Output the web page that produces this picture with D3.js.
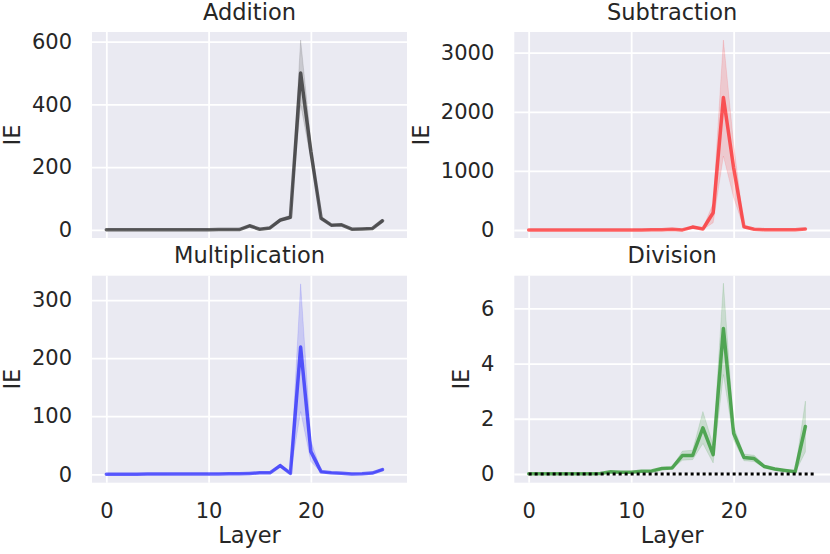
<!DOCTYPE html>
<html lang="en">
<head>
   <meta charset="UTF-8">
   <title>IE per layer</title>
   <style>
      html, body {
         margin: 0;
         background: #fff;
         overflow: hidden;
      }

      text {
         font-family: 'DejaVu Sans', sans-serif;
         fill: #262626;
      }

      .tick text {
         font-size: 21px;
      }

      .tick line {
         stroke: #fff;
         stroke-width: 1.8;
      }

      .title, .label {
         font-size: 22.5px;
      }
   </style>
   <script src="https://cdn.jsdelivr.net/npm/d3@7"></script>
</head>
<body>
   <div class="chart"></div>
   <script>
      // layers 0..27
      const layers = [0, 1, 2, 3, 4, 5, 6, 7, 8, 9, 10, 11, 12, 13, 14, 15, 16, 17, 18, 19, 20, 21, 22, 23, 24, 25, 26, 27]
      const xTicks = [0, 10, 20]
      const xLimits = [-1.4, 29.4]

      const additionMean = [0.3, 0.4, 0.3, 0.5, 0.4, 0.3, 0.4, 0.5, 0.6, 0.5, 0.7, 0.8, 0.9, 1, 13, 2, 6, 31, 40, 500, 250, 37, 15, 16, 2, 3, 4, 29]
      const additionLow = [0.1, 0.2, 0.1, 0.3, 0.2, 0.1, 0.2, 0.3, 0.4, 0.3, 0.5, 0.6, 0.6, 0.7, 10, 1, 4, 26, 35, 400, 225, 33, 13, 14, 1, 2, 3, 24]
      const additionHigh = [0.5, 0.6, 0.5, 0.7, 0.6, 0.5, 0.6, 0.7, 0.8, 0.7, 0.9, 1, 1.2, 1.3, 16, 3, 8, 37, 46, 605, 285, 41, 17, 18, 3, 4, 5, 34]

      const subtractionMean = [0, 0, 0, 0, 0, 0, 0, 0, 1, 1, 1, 2, 3, 5, 12, 2, 50, 17, 293, 2240, 1050, 55, 12, 6, 3, 3, 5, 18]
      const subtractionLow = [0, 0, 0, 0, 0, 0, 0, 0, 0, 0, 0, 1, 1, 3, 8, 1, 30, 8, 124, 1252, 550, 35, 8, 4, 2, 2, 3, 12]
      const subtractionHigh = [1, 1, 1, 1, 1, 1, 1, 1, 2, 2, 2, 3, 5, 8, 16, 4, 75, 30, 450, 3215, 1450, 80, 16, 9, 5, 5, 7, 25]

      const multiplicationMean = [0.2, 0.2, 0.2, 0.2, 0.3, 0.3, 0.3, 0.4, 0.4, 0.5, 0.5, 0.6, 0.7, 0.8, 1.5, 2.5, 2.5, 15, 1.5, 219, 39, 4.5, 2.5, 1.7, 0.6, 1, 2, 8]
      const multiplicationLow = [0.1, 0.1, 0.1, 0.1, 0.2, 0.2, 0.2, 0.3, 0.3, 0.4, 0.4, 0.5, 0.5, 0.6, 1.2, 2, 2, 12, 1, 108, 22, 3.5, 2, 1.3, 0.4, 0.7, 1.6, 6.5]
      const multiplicationHigh = [0.3, 0.3, 0.3, 0.3, 0.4, 0.4, 0.4, 0.5, 0.5, 0.6, 0.6, 0.7, 0.9, 1, 1.8, 3, 3, 18, 2, 328, 58, 5.5, 3, 2.1, 0.8, 1.3, 2.4, 9.5]

      const divisionMean = [0.01, 0.01, 0.01, 0.01, 0.01, 0.01, 0.01, 0.02, 0.08, 0.06, 0.06, 0.1, 0.11, 0.2, 0.22, 0.67, 0.67, 1.67, 0.7, 5.27, 1.47, 0.6, 0.56, 0.27, 0.18, 0.13, 0.08, 1.72]
      const divisionLow = [0, 0, 0, 0, 0, 0, 0, 0.01, 0.06, 0.04, 0.04, 0.08, 0.09, 0.17, 0.19, 0.5, 0.52, 1.1, 0.4, 3.6, 1.23, 0.48, 0.45, 0.22, 0.14, 0.1, 0.05, 0.8]
      const divisionHigh = [0.02, 0.02, 0.02, 0.02, 0.02, 0.02, 0.02, 0.03, 0.1, 0.08, 0.08, 0.12, 0.13, 0.24, 0.26, 0.83, 0.86, 2.26, 1.05, 6.91, 1.71, 0.72, 0.68, 0.33, 0.23, 0.17, 0.12, 2.64]

      const titles = ['Addition', 'Subtraction', 'Multiplication', 'Division']
      const yLimits = [[-26, 631], [-135, 3350], [-14.5, 342], [-0.315, 7.18]]
      const yTicks = [[0, 200, 400, 600], [0, 1000, 2000, 3000], [0, 100, 200, 300], [0, 2, 4, 6]]
      const baseline = [0, 28]  // dotted zero line in Division

      const series = [
         { mean: additionMean, low: additionLow, high: additionHigh, color: 'black' },
         { mean: subtractionMean, low: subtractionLow, high: subtractionHigh, color: 'red' },
         { mean: multiplicationMean, low: multiplicationLow, high: multiplicationHigh, color: 'blue' },
         { mean: divisionMean, low: divisionLow, high: divisionHigh, color: 'green' }
      ]

      function visualize() {
         const svg = d3.select('.chart').append('svg')
            .attr('width', 830)
            .attr('height', 554)

         // plot boxes: columns and rows
         const cols = [[92, 407], [514.3, 830]]
         const rows = [[32, 238], [275.7, 482.7]]

         series.forEach((s, i) => {
            const col = cols[i % 2], row = rows[Math.floor(i / 2)]
            const WIDTH = col[1] - col[0]
            const HEIGHT = row[1] - row[0]
            const bottomRow = i >= 2

            const chart = svg.append('g')
               .attr('transform', `translate(${col[0]}, ${row[0]})`)

            chart.append('rect')
               .attr('width', WIDTH)
               .attr('height', HEIGHT)
               .attr('fill', '#EAEAF2')

            const xScale = d3.scaleLinear().domain(xLimits).range([0, WIDTH])
            const yScale = d3.scaleLinear().domain(yLimits[i]).range([HEIGHT, 0])

            const xAxisGroup = chart.append('g')
               .attr('transform', `translate(0, ${HEIGHT})`)
               .call(d3.axisBottom(xScale)
                  .tickValues(xTicks)
                  .tickSizeInner(-HEIGHT)
                  .tickSizeOuter(0)
                  .tickPadding(20.5)
                  .tickFormat(bottomRow ? d3.format('') : () => ''))
            xAxisGroup.select('.domain').remove()

            const yAxisGroup = chart.append('g')
               .call(d3.axisLeft(yScale)
                  .tickValues(yTicks[i])
                  .tickSizeInner(-WIDTH)
                  .tickSizeOuter(0)
                  .tickPadding(20)
                  .tickFormat(d3.format('')))
            yAxisGroup.select('.domain').remove()
            chart.selectAll('.tick text').attr('fill', '#262626')

            // confidence band
            const band = d3.area()
               .x(d => xScale(d))
               .y0(d => yScale(s.low[d]))
               .y1(d => yScale(s.high[d]))

            chart.append('path')
               .datum(layers)
               .attr('d', band)
               .attr('fill', s.color)
               .attr('fill-opacity', 0.14)
               .attr('stroke', s.color)
               .attr('stroke-opacity', 0.1)
               .attr('stroke-width', 1)

            const line = d3.line()
               .x(d => xScale(d))
               .y(d => yScale(s.mean[d]))

            chart.append('path')
               .datum(layers)
               .attr('d', line)
               .attr('fill', 'none')
               .attr('stroke', s.color)
               .attr('stroke-opacity', 0.6)
               .attr('stroke-width', 3.5)
               .attr('stroke-linejoin', 'round')
               .attr('stroke-linecap', 'round')

            if (i === 3) {
               chart.append('line')
                  .attr('x1', xScale(baseline[0]))
                  .attr('x2', xScale(baseline[1]))
                  .attr('y1', yScale(0))
                  .attr('y2', yScale(0))
                  .attr('stroke', 'black')
                  .attr('stroke-width', 3)
                  .attr('stroke-dasharray', '3,3')
            }

            chart.append('text')
               .attr('class', 'title')
               .attr('x', WIDTH / 2)
               .attr('y', -12.5)
               .attr('text-anchor', 'middle')
               .text(titles[i])

            // y label sits left of the widest tick label
            let tickLeft = 0
            yAxisGroup.selectAll('.tick text').each(function () {
               tickLeft = Math.min(tickLeft, this.getBBox().x)
            })

            chart.append('text')
               .attr('class', 'label')
               .attr('transform', `translate(${tickLeft - 12}, ${HEIGHT / 2}) rotate(-90)`)
               .attr('text-anchor', 'middle')
               .text('IE')

            if (bottomRow) {
               chart.append('text')
                  .attr('class', 'label')
                  .attr('x', WIDTH / 2)
                  .attr('y', HEIGHT + 60.5)
                  .attr('text-anchor', 'middle')
                  .text('Layer')
            }
         })
      }

      visualize()
   </script>
</body>
</html>
